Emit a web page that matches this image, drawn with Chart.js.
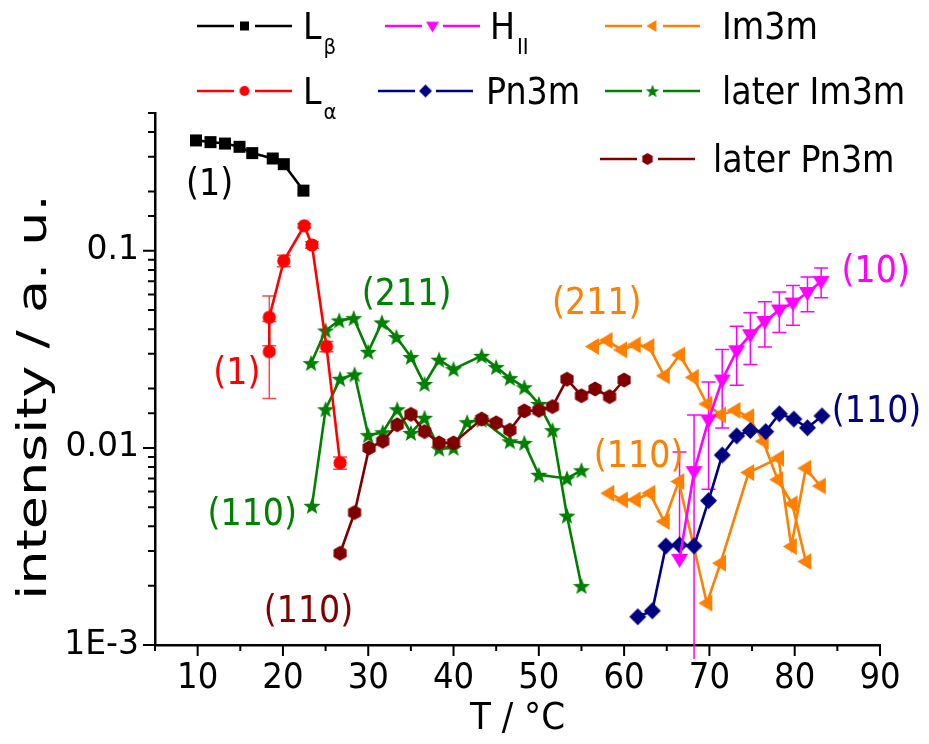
<!DOCTYPE html>
<html>
<head>
<meta charset="utf-8">
<script src="https://cdn.jsdelivr.net/npm/chart.js@4.4.1/dist/chart.umd.min.js"></script>
<style>
  html, body { margin: 0; padding: 0; background: #fff; }
</style>
</head>
<body>
<canvas id="graficoFases" width="929" height="744"></canvas>
<script>
// values: T in °C, intensity in a.u.
const lbetaT = [9.8, 11.5, 13.2, 14.9, 16.4, 18.8, 20.1, 22.4];
const lbetaI = [0.363, 0.356, 0.350, 0.337, 0.313, 0.294, 0.275, 0.202];

const lalphaT = [18.4, 18.4, 20.1, 22.5, 23.4, 25.1, 26.7];
const lalphaI = [0.0308, 0.046, 0.089, 0.134, 0.107, 0.0327, 0.0084];
const lalphaErr = [0.013, 0.013, 0.006, 0.003, 0.004, 0.002, 0.0006];

const laterIm211T = [23.3, 25.0, 26.6, 28.3, 30.0, 31.6, 33.3, 35.0, 36.6, 38.3, 40.0, 43.3, 45.0, 46.6, 48.3, 50.0, 51.6, 53.3, 55.0];
const laterIm211I = [0.0269, 0.0394, 0.0443, 0.0455, 0.0307, 0.0433, 0.0365, 0.0289, 0.0211, 0.0280, 0.0251, 0.0293, 0.0257, 0.0226, 0.0203, 0.0167, 0.0123, 0.00453, 0.00199];

const laterIm110T = [23.4, 25.0, 26.7, 28.4, 30.0, 31.7, 33.4, 35.0, 36.6, 38.3, 40.0, 41.6, 43.3, 46.6, 48.3, 50.0, 53.3, 55.0];
const laterIm110I = [0.00508, 0.0157, 0.0224, 0.0236, 0.0116, 0.0120, 0.0157, 0.0119, 0.0142, 0.0099, 0.0100, 0.0135, 0.0139, 0.0108, 0.0106, 0.0073, 0.0070, 0.0077];

const laterPnT = [26.7, 28.4, 30.1, 31.7, 33.4, 35.0, 36.6, 38.3, 40.0, 43.3, 45.0, 46.6, 48.3, 50.0, 51.6, 53.3, 55.0, 56.6, 58.3, 60.0];
const laterPnI = [0.00292, 0.0047, 0.0100, 0.0108, 0.0131, 0.0148, 0.0121, 0.0106, 0.0106, 0.0140, 0.0134, 0.0123, 0.0154, 0.0155, 0.0162, 0.0223, 0.0184, 0.0199, 0.0182, 0.0221];

const im211T = [56.4, 58.0, 59.7, 61.3, 62.9, 64.7, 66.5, 68.1, 69.7, 71.3, 73.0, 74.6, 76.3, 78.0, 79.7, 81.3];
const im211I = [0.0327, 0.0351, 0.0314, 0.0333, 0.0327, 0.0232, 0.0296, 0.0228, 0.0167, 0.0147, 0.0155, 0.0144, 0.0108, 0.0069, 0.0052, 0.00265];

const im110T = [58.2, 59.8, 61.3, 63.0, 64.7, 66.4, 69.7, 71.3, 74.6, 78.1, 79.6, 81.3, 83.0];
const im110I = [0.00589, 0.00545, 0.00545, 0.00589, 0.00423, 0.00675, 0.00163, 0.0026, 0.0075, 0.00887, 0.00316, 0.00789, 0.00641];

const pn3mT = [61.6, 63.3, 64.9, 66.5, 68.2, 69.9, 71.5, 73.2, 74.8, 76.6, 78.2, 79.9, 81.5, 83.2];
const pn3mI = [0.00139, 0.00149, 0.00318, 0.00322, 0.00318, 0.0054, 0.0092, 0.0115, 0.01225, 0.0121, 0.0149, 0.0140, 0.01265, 0.01453];

const hexT = [66.5, 68.2, 69.9, 71.5, 73.2, 74.8, 76.5, 78.2, 79.8, 81.5, 83.1];
const hexI = [0.00272, 0.00758, 0.01387, 0.0221, 0.0311, 0.0375, 0.0438, 0.0501, 0.0543, 0.0614, 0.0698];
const hexErr = [0.0068, 0.0071, 0.0077, 0.0095, 0.0103, 0.011, 0.0113, 0.0116, 0.0124, 0.0123, 0.012];

const xTicks = [10, 20, 30, 40, 50, 60, 70, 80, 90];
const yTickValues = [0.001, 0.01, 0.1];
const yTickText = ['1E-3', '0.01', '0.1'];

const FONT = '"DejaVu Sans Condensed", "DejaVu Sans", sans-serif';
const FONT_WIDE = '"DejaVu Sans", sans-serif';

// filled symbols as little canvases (Chart.js has no hexagon / filled star)
function marker(shape, color, s) {
  const c = document.createElement('canvas');
  const n = Math.ceil(2 * s + 4);
  c.width = n; c.height = n;
  const g = c.getContext('2d');
  const m = n / 2;
  g.fillStyle = color;
  g.beginPath();
  if (shape === 'square') g.rect(m - s, m - s, 2 * s, 2 * s);
  else if (shape === 'circle') g.arc(m, m, s, 0, Math.PI * 2);
  else if (shape === 'diamond') { g.moveTo(m, m - s); g.lineTo(m + s, m); g.lineTo(m, m + s); g.lineTo(m - s, m); }
  else if (shape === 'down') { g.moveTo(m - s, m - s * 0.65); g.lineTo(m + s, m - s * 0.65); g.lineTo(m, m + s); }
  else if (shape === 'left') { g.moveTo(m - s, m); g.lineTo(m + s * 0.65, m - s); g.lineTo(m + s * 0.65, m + s); }
  else if (shape === 'star') {
    for (let k = 0; k < 10; k++) {
      const r = k % 2 ? s * 0.42 : s;
      const a = -Math.PI / 2 + k * Math.PI / 5;
      g.lineTo(m + r * Math.cos(a), m + r * Math.sin(a) + s * 0.08);
    }
  } else if (shape === 'hex') {
    for (let k = 0; k < 6; k++) {
      const a = -Math.PI / 2 + k * Math.PI / 3;
      g.lineTo(m + s * Math.cos(a), m + s * Math.sin(a));
    }
  }
  g.closePath();
  g.fill();
  return c;
}

function serie(label, xs, ys, color, shape, size) {
  return {
    label: label,
    data: xs.map((x, i) => ({ x: x, y: ys[i] })),
    borderColor: color,
    backgroundColor: color,
    borderWidth: 2.6,
    showLine: true,
    tension: 0,
    pointStyle: marker(shape, color, size),
    pointRadius: size
  };
}

const magenta = serie('HII', hexT, hexI, '#ff00ff', 'down', 8.5);
magenta.errors = hexErr; magenta.errorColor = '#ff00ff';
const red = serie('La', lalphaT, lalphaI, '#ff0000', 'circle', 6.6);
red.errors = lalphaErr; red.errorColor = '#ff4848';

// first dataset ends up on top
const datasets = [
  magenta,
  serie('Pn3m', pn3mT, pn3mI, '#000080', 'diamond', 8.5),
  serie('Im3m 110', im110T, im110I, '#ff8000', 'left', 8.5),
  serie('Im3m 211', im211T, im211I, '#ff8000', 'left', 8.5),
  red,
  serie('later Pn3m', laterPnT, laterPnI, '#800000', 'hex', 7.6),
  serie('later Im3m 110', laterIm110T, laterIm110I, '#008000', 'star', 9),
  serie('later Im3m 211', laterIm211T, laterIm211I, '#008000', 'star', 9),
  serie('Lb', lbetaT, lbetaI, '#000000', 'square', 6)
];

const errorBars = {
  id: 'errorBars',
  beforeDatasetsDraw(chart) {
    const { ctx, chartArea: a, scales: { x, y } } = chart;
    ctx.save();
    ctx.beginPath();
    ctx.rect(a.left, a.top, a.right - a.left, a.bottom - a.top + 14);
    ctx.clip();
    chart.data.datasets.forEach(ds => {
      if (!ds.errors) return;
      ctx.strokeStyle = ds.errorColor;
      ctx.lineWidth = 1.5;
      ds.data.forEach((p, i) => {
        const e = ds.errors[i];
        const px = x.getPixelForValue(p.x);
        const top = y.getPixelForValue(p.y + e);
        const py = y.getPixelForValue(p.y);
        const low = p.y - e > 0 ? y.getPixelForValue(p.y - e) : null;
        ctx.beginPath();
        ctx.moveTo(px, top);
        ctx.lineTo(px, low === null ? py : low);
        ctx.moveTo(px - 7, top);
        ctx.lineTo(px + 7, top);
        if (low !== null && low < a.bottom) {
          ctx.moveTo(px - 7, low);
          ctx.lineTo(px + 7, low);
        }
        ctx.stroke();
      });
    });
    ctx.restore();
  }
};

// outward tick marks, long on decades / tens, plus the stretched y title
const axisTicks = {
  id: 'axisTicks',
  afterDraw(chart) {
    const { ctx, chartArea: a, scales: { x, y } } = chart;
    ctx.save();
    ctx.strokeStyle = '#000';
    ctx.lineWidth = 2;
    ctx.beginPath();
    x.ticks.forEach(t => {
      const px = x.getPixelForValue(t.value);
      const len = t.value % 10 === 0 ? 11 : 6;
      ctx.moveTo(px, a.bottom);
      ctx.lineTo(px, a.bottom + len);
    });
    y.ticks.forEach(t => {
      const py = y.getPixelForValue(t.value);
      const lg = Math.log10(t.value);
      const len = Math.abs(lg - Math.round(lg)) < 1e-6 ? 12 : 7;
      ctx.moveTo(a.left, py);
      ctx.lineTo(a.left - len, py);
    });
    ctx.stroke();

    ctx.translate(36, 397);
    ctx.rotate(-Math.PI / 2);
    ctx.scale(1, 0.74);
    ctx.fillStyle = '#000';
    ctx.font = '54px ' + FONT_WIDE;
    ctx.textAlign = 'center';
    ctx.textBaseline = 'middle';
    ctx.fillText('intensity / a. u.', 0, 0);
    ctx.restore();
  }
};

// reflection labels next to the curves
const notes = {
  id: 'notes',
  afterDraw(chart) {
    const { ctx, scales: { x, y } } = chart;
    const items = [
      ['(1)', '#000000', 11.4, 0.215],
      ['(1)', '#ff0000', 14.6, 0.0235],
      ['(211)', '#008000', 34.5, 0.0591],
      ['(110)', '#008000', 16.4, 0.00457],
      ['(110)', '#800000', 23.0, 0.00147],
      ['(211)', '#ff8000', 56.8, 0.0532],
      ['(110)', '#ff8000', 61.7, 0.0090],
      ['(10)', '#ff00ff', 89.5, 0.0773],
      ['(110)', '#000080', 89.6, 0.01506]
    ];
    ctx.save();
    ctx.font = '37px ' + FONT;
    ctx.textAlign = 'center';
    ctx.textBaseline = 'middle';
    items.forEach(([t, c, tx, ty]) => {
      ctx.fillStyle = c;
      ctx.fillText(t, x.getPixelForValue(tx), y.getPixelForValue(ty));
    });
    ctx.restore();
  }
};

const legendBox = {
  id: 'legendBox',
  afterDraw(chart) {
    const ctx = chart.ctx;
    const entries = [
      { color: '#000000', shape: 'square', s: 4.5, x: 197, y: 26, text: 'L', sub: 'β', tx: 303 },
      { color: '#ff00ff', shape: 'down', s: 6.5, x: 385, y: 26, text: 'H', sub: 'II', tx: 490 },
      { color: '#ff8000', shape: 'left', s: 6, x: 605, y: 26, text: 'Im3m', tx: 722 },
      { color: '#ff0000', shape: 'circle', s: 5, x: 197, y: 91, text: 'L', sub: 'α', tx: 303 },
      { color: '#000080', shape: 'diamond', s: 6.5, x: 378, y: 91, text: 'Pn3m', tx: 486 },
      { color: '#008000', shape: 'star', s: 7, x: 605, y: 91, text: 'later Im3m', tx: 722 },
      { color: '#800000', shape: 'hex', s: 6, x: 600, y: 159, text: 'later Pn3m', tx: 713 }
    ];
    ctx.save();
    entries.forEach(e => {
      ctx.strokeStyle = e.color;
      ctx.lineWidth = 2.5;
      ctx.beginPath();
      ctx.moveTo(e.x, e.y); ctx.lineTo(e.x + 37, e.y);
      ctx.moveTo(e.x + 58, e.y); ctx.lineTo(e.x + 95, e.y);
      ctx.stroke();
      const m = marker(e.shape, e.color, e.s);
      ctx.drawImage(m, e.x + 47.5 - m.width / 2, e.y - m.height / 2);
      ctx.fillStyle = '#000';
      ctx.textAlign = 'left';
      ctx.textBaseline = 'alphabetic';
      ctx.font = '37px ' + FONT;
      ctx.fillText(e.text, e.tx, e.y + 13);
      if (e.sub) {
        const w = ctx.measureText(e.text).width;
        ctx.font = '22px ' + FONT;
        ctx.fillText(e.sub, e.tx + w + 2, e.y + 28);
      }
    });
    ctx.restore();
  }
};

new Chart(document.getElementById('graficoFases').getContext('2d'), {
  type: 'scatter',
  data: { datasets: datasets },
  options: {
    responsive: false,
    animation: false,
    events: [],
    layout: { padding: { top: 113, right: 49, left: 0, bottom: 0 } },
    plugins: { legend: { display: false }, tooltip: { enabled: false } },
    scales: {
      x: {
        type: 'linear',
        min: 5,
        max: 90,
        afterFit: s => { s.height = 99; },
        border: { display: true, color: '#000', width: 2.5 },
        grid: { display: true, drawOnChartArea: false, drawTicks: false },
        ticks: {
          stepSize: 5,
          autoSkip: false,
          maxRotation: 0,
          padding: 12,
          color: '#000',
          font: { family: FONT, size: 36 },
          callback: v => (xTicks.includes(v) ? String(v) : '')
        },
        title: {
          display: true,
          text: 'T / °C',
          color: '#000',
          font: { family: FONT, size: 38 },
          padding: { top: 0, bottom: 2 }
        }
      },
      y: {
        type: 'logarithmic',
        min: 0.001,
        max: 0.5,
        afterFit: s => { s.width = 155; },
        border: { display: true, color: '#000', width: 2.5 },
        grid: { display: true, drawOnChartArea: false, drawTicks: false },
        ticks: {
          autoSkip: false,
          padding: 16,
          color: '#000',
          font: { family: FONT_WIDE, size: 33 },
          callback: v => {
            const i = yTickValues.findIndex(t => Math.abs(Math.log10(t) - Math.log10(v)) < 1e-6);
            return i >= 0 ? yTickText[i] : '';
          }
        },
        title: { display: false }
      }
    }
  },
  plugins: [errorBars, axisTicks, notes, legendBox]
});
</script>
</body>
</html>
